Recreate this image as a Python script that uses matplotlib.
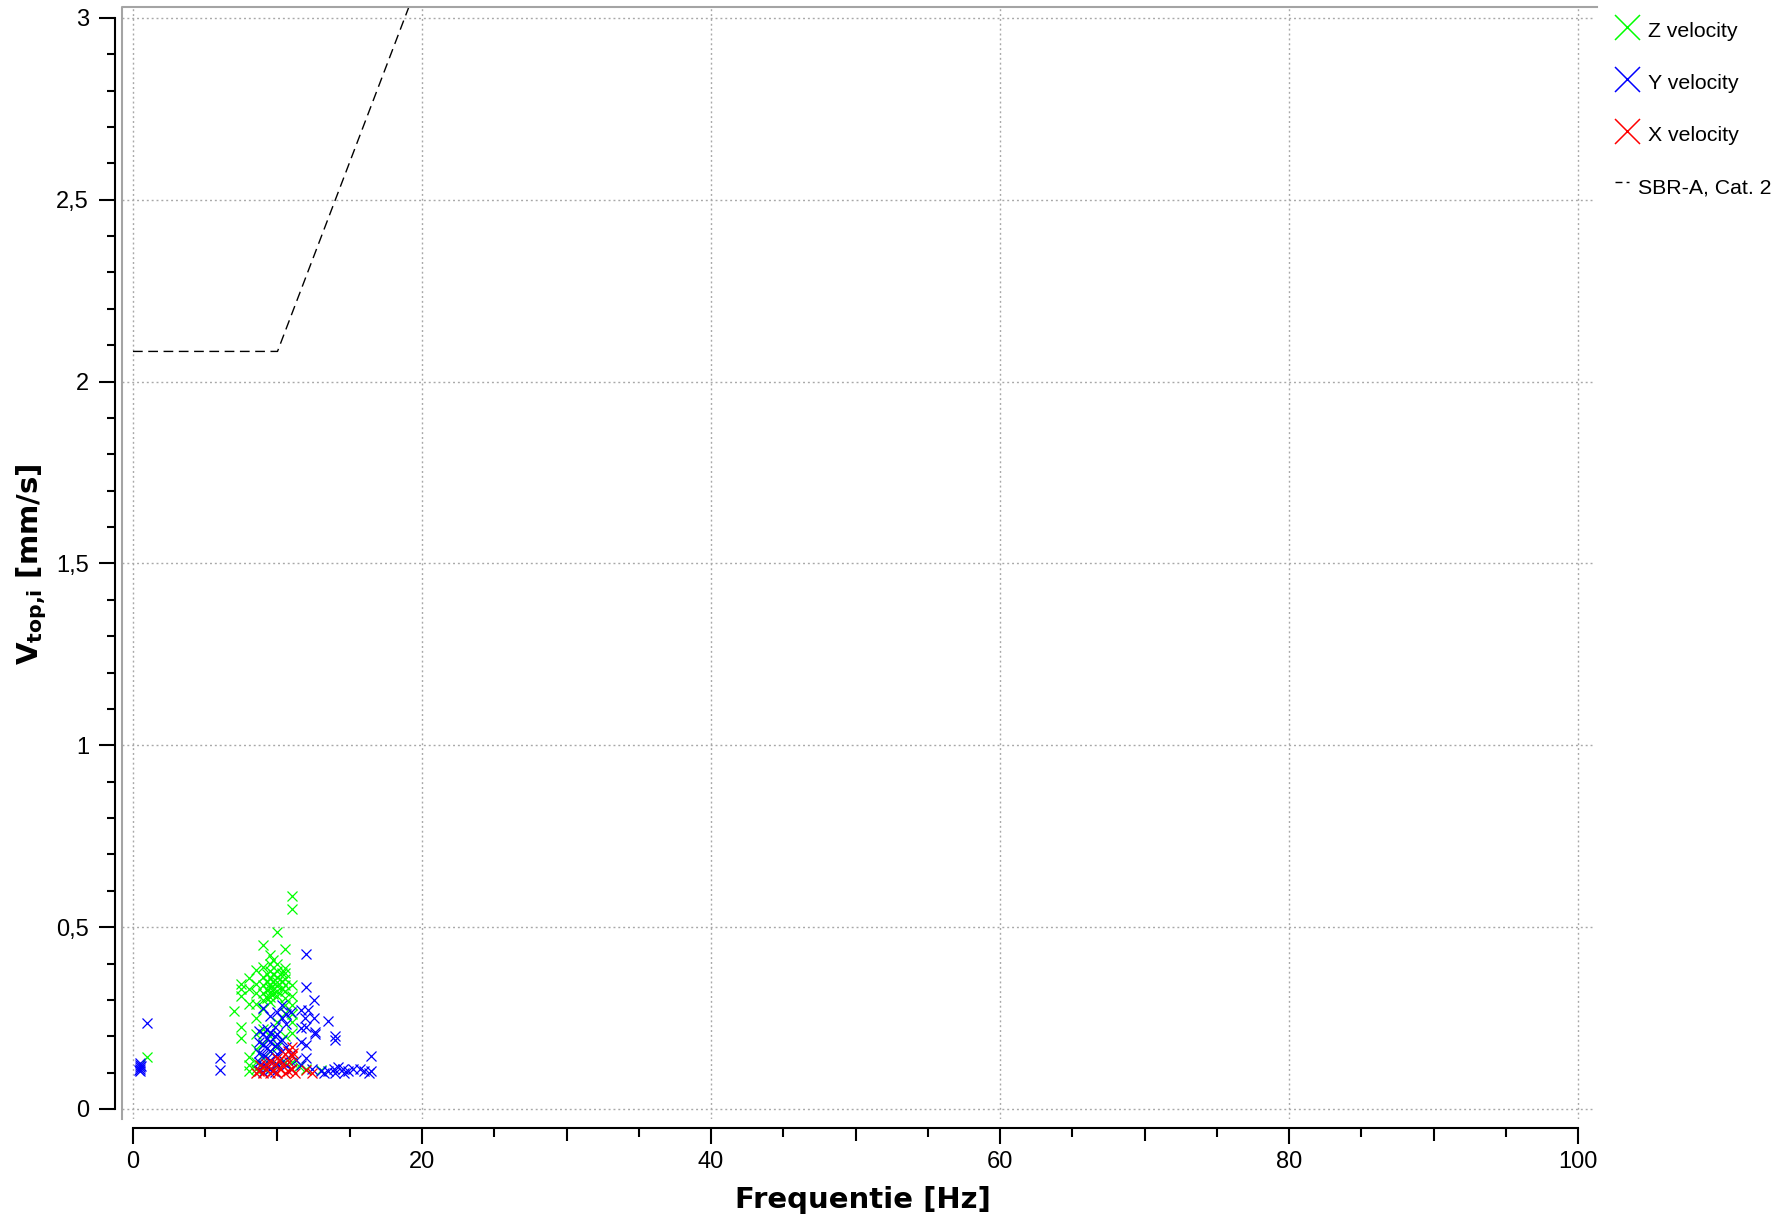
import numpy as np
import matplotlib.pyplot as plt
from matplotlib.lines import Line2D
from matplotlib.ticker import MultipleLocator, FuncFormatter

# Peak velocities per direction: frequency [Hz] and v_top,i [mm/s]
z_freq = [1.0, 7.0, 7.5, 7.5, 7.5, 7.5, 7.5,
          8.0, 8.0, 8.0, 8.0, 8.0, 8.0,
          8.5, 8.5, 8.5, 8.5, 8.5, 8.5, 8.5, 8.5, 8.5,
          9.0, 9.0, 9.0, 9.0, 9.0, 9.0, 9.0, 9.0, 9.0, 9.0, 9.0,
          9.3, 9.3, 9.3, 9.3,
          9.5, 9.5, 9.5, 9.5, 9.5, 9.5, 9.5, 9.5, 9.5, 9.5, 9.5,
          9.7, 9.7, 9.7, 9.7, 9.7,
          10.0, 10.0, 10.0, 10.0, 10.0, 10.0, 10.0, 10.0, 10.0, 10.0, 10.0,
          10.3, 10.3, 10.3,
          10.5, 10.5, 10.5, 10.5, 10.5, 10.5, 10.5, 10.5, 10.5, 10.5, 10.5,
          11.0, 11.0, 11.0, 11.0, 11.0, 11.0, 11.0, 11.0, 11.0,
          11.5, 12.0, 13.0]
z_vel = [0.142, 0.270, 0.345, 0.312, 0.226, 0.194, 0.330,
         0.360, 0.330, 0.290, 0.144, 0.122, 0.105,
         0.382, 0.345, 0.318, 0.290, 0.250, 0.205, 0.165, 0.128, 0.110,
         0.451, 0.390, 0.362, 0.340, 0.320, 0.300, 0.275, 0.220, 0.180, 0.140, 0.112,
         0.372, 0.350, 0.328, 0.305,
         0.423, 0.400, 0.380, 0.360, 0.345, 0.333, 0.320, 0.308, 0.295, 0.200, 0.160,
         0.410, 0.370, 0.348, 0.330, 0.315,
         0.487, 0.400, 0.380, 0.362, 0.350, 0.338, 0.325, 0.312, 0.240, 0.170, 0.120,
         0.375, 0.352, 0.330,
         0.439, 0.387, 0.374, 0.358, 0.340, 0.325, 0.305, 0.285, 0.265, 0.200, 0.130,
         0.587, 0.551, 0.340, 0.310, 0.285, 0.262, 0.238, 0.210, 0.130,
         0.118, 0.110, 0.107]

y_freq = [0.5, 0.5, 0.5, 0.5, 0.5, 0.45, 0.55, 1.0, 6.0, 6.0,
          8.7, 8.7, 8.7, 8.7, 8.7,
          9.0, 9.0, 9.0, 9.0, 9.0, 9.0,
          9.3, 9.3, 9.3, 9.3, 9.3,
          9.5, 9.5, 9.5, 9.5, 9.5, 9.5,
          9.8, 9.8, 9.8, 9.8, 9.8, 9.8,
          10.0, 10.0, 10.0, 10.0, 10.0,
          10.3, 10.3, 10.3, 10.3, 10.3,
          10.6, 10.6, 10.6, 10.6,
          10.9, 10.9, 10.9, 11.3,
          11.6, 11.6, 11.6, 11.6, 11.9,
          12.0, 12.0, 12.0, 12.0, 12.0, 12.1,
          12.5, 12.5, 12.6, 12.6, 12.4,
          13.0, 13.2, 13.5, 13.5, 13.9,
          14.0, 14.0, 14.0, 14.2, 14.5, 14.6, 14.9, 15.2, 15.7, 16.0, 16.3,
          16.5, 16.5]
y_vel = [0.105, 0.110, 0.115, 0.120, 0.126, 0.108, 0.118, 0.236, 0.140, 0.107,
         0.215, 0.185, 0.155, 0.128, 0.108,
         0.277, 0.205, 0.175, 0.148, 0.120, 0.102,
         0.220, 0.195, 0.168, 0.140, 0.115,
         0.255, 0.210, 0.185, 0.160, 0.135, 0.110,
         0.225, 0.200, 0.172, 0.145, 0.120, 0.102,
         0.268, 0.205, 0.180, 0.152, 0.125,
         0.286, 0.250, 0.190, 0.160, 0.130,
         0.262, 0.235, 0.170, 0.120,
         0.268, 0.150, 0.110, 0.135,
         0.272, 0.222, 0.184, 0.120, 0.250,
         0.426, 0.336, 0.226, 0.176, 0.140, 0.272,
         0.300, 0.250, 0.212, 0.205, 0.110,
         0.105, 0.100, 0.243, 0.105, 0.110,
         0.200, 0.190, 0.100, 0.115, 0.110, 0.100, 0.105, 0.110, 0.110, 0.105, 0.100,
         0.146, 0.104]

x_freq = [8.5, 8.7, 8.8, 9.0, 9.2, 9.2, 9.5, 9.5, 9.7, 9.8, 10.0, 10.0, 10.2, 10.2,
          10.3, 10.5, 10.5, 10.7, 10.7, 10.8, 11.0, 11.0, 11.0, 11.1, 11.2, 12.0, 12.4]
x_vel = [0.100, 0.105, 0.120, 0.100, 0.110, 0.125, 0.100, 0.130, 0.105, 0.125, 0.100, 0.140,
         0.110, 0.135, 0.120, 0.100, 0.150, 0.105, 0.160, 0.130, 0.110, 0.145, 0.170,
         0.155, 0.100, 0.107, 0.100]

# SBR guideline A, category 2 limit line
sbr_freq = [0, 10, 50, 100]
sbr_vel = [2.083, 2.083, 6.25, 8.333]

W, H = 1789, 1221
plt.rcParams['font.family'] = ['Liberation Sans', 'DejaVu Sans']

fig = plt.figure(figsize=(W / 100, H / 100), dpi=100)
ax = fig.add_axes([122 / W, 1 - 1119 / H, (1594 - 122) / W, (1119 - 7) / H])

ax.plot(z_freq, z_vel, 'x', color='#00ff00', ms=7.5, mew=0.9)
ax.plot(y_freq, y_vel, 'x', color='#0000ff', ms=7.5, mew=0.9)
ax.plot(x_freq, x_vel, 'x', color='#ff0000', ms=7.5, mew=0.9)
ax.plot(sbr_freq, sbr_vel, color='black', lw=1.0, dashes=(7, 4))

ax.set_xlim(-0.76, 101.1)
ax.set_ylim(-0.0275, 3.03)

# detached scales like a Qwt plot
for side in ['top', 'right']:
    ax.spines[side].set_visible(False)
ax.spines['left'].set_position(('outward', 5.0))
ax.spines['bottom'].set_position(('outward', 6.5))
ax.spines['left'].set_bounds(0, 3)
ax.spines['bottom'].set_bounds(0, 100)
ax.spines['left'].set_linewidth(1.5)
ax.spines['bottom'].set_linewidth(1.5)

# canvas frame (left and top edge only)
ax.plot([0, 0, 1.002], [0, 1, 1], transform=ax.transAxes, color='#a4a4a4',
        lw=1.5, clip_on=False)

ax.xaxis.set_major_locator(MultipleLocator(20))
ax.xaxis.set_minor_locator(MultipleLocator(5))
ax.yaxis.set_major_locator(MultipleLocator(0.5))
ax.yaxis.set_minor_locator(MultipleLocator(0.1))
ax.yaxis.set_major_formatter(FuncFormatter(lambda v, p: f'{v:g}'.replace('.', ',')))

ax.tick_params(which='both', direction='out', width=1.5, labelsize=17)
ax.tick_params(which='major', length=11.5)
ax.tick_params(axis='y', which='minor', length=5.8)
ax.tick_params(axis='x', which='minor', length=6.5)
ax.tick_params(axis='x', which='major', pad=4.7)
ax.tick_params(axis='y', which='major', pad=7.2)

# medium ticks at every 10 Hz
for t, loc in zip(ax.xaxis.get_minor_ticks(), ax.xaxis.get_minorticklocs()):
    if loc % 10 == 0:
        t.tick1line.set_markersize(9.4)

ax.grid(True, which='major', color='#a8a8a8', linestyle=(0, (1.4, 2.1)), linewidth=1.0)

fig.text(863 / W, 1 - 1208 / H, 'Frequentie [Hz]', ha='center', va='baseline',
         fontsize=21, fontweight='bold', family='DejaVu Sans')
fig.text(32 / W, 1 - 564 / H, r'$\mathbf{V_{top{,}i}}$ [mm/s]', rotation=90,
         ha='center', va='center', fontsize=21, fontweight='bold', family='DejaVu Sans')

# legend on the right side
entries = [('Z velocity', '#00ff00', 27, 37), ('Y velocity', '#0000ff', 79, 89),
           ('X velocity', '#ff0000', 131, 141)]
for label, color, ym, yb in entries:
    fig.add_artist(Line2D([1627 / W], [1 - ym / H], marker='x', color=color,
                          ms=18, mew=1.1, transform=fig.transFigure))
    fig.text(1648 / W, 1 - yb / H, label, fontsize=15.3, va='baseline')
fig.add_artist(Line2D([1615 / W, 1629 / W], [1 - 182 / H, 1 - 182 / H], color='black',
                      lw=1.0, dashes=(5, 3), transform=fig.transFigure))
fig.text(1638 / W, 1 - 193 / H, 'SBR-A, Cat. 2', fontsize=15.3, va='baseline')

fig.savefig('out.png', dpi=100)
